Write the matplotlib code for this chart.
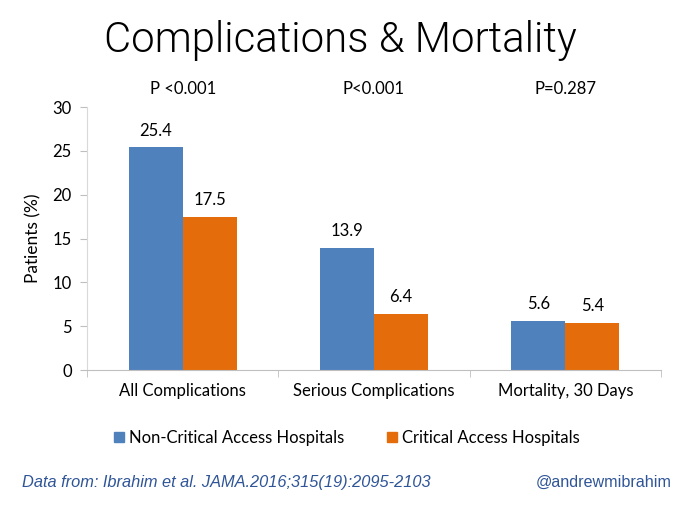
import matplotlib
matplotlib.use("Agg")
import matplotlib.pyplot as plt
import numpy as np
from matplotlib.patches import Patch

categories = ["All Complications", "Serious Complications", "Mortality, 30 Days"]
non_critical = [25.4, 13.9, 5.6]
critical = [17.5, 6.4, 5.4]
p_values = ["P <0.001", "P<0.001", "P=0.287"]
series_names = ["Non-Critical Access Hospitals", "Critical Access Hospitals"]
yticks = [0, 5, 10, 15, 20, 25, 30]

BLUE = "#4F81BD"
ORANGE = "#E46C0A"
FONT = "Lato"
FS = 12

fig = plt.figure(figsize=(6.8, 5.05), dpi=100)
ax = fig.add_axes([0.128, 0.267, 0.844, 0.521])

x = np.arange(len(categories))
w = 0.282
ax.bar(x - w / 2, non_critical, width=w, color=BLUE)
ax.bar(x + w / 2, critical, width=w, color=ORANGE)

for xi, v in zip(x - w / 2, non_critical):
    ax.text(xi, v + 1.0, f"{v}", ha="center", va="bottom", fontsize=FS, family=FONT)
for xi, v in zip(x + w / 2, critical):
    ax.text(xi, v + 1.0, f"{v}", ha="center", va="bottom", fontsize=FS, family=FONT)

for xi, p in zip(x, p_values):
    ax.text(xi, 31.2, p, ha="center", va="bottom", fontsize=FS, family=FONT)

ax.set_xlim(-0.5, 2.5)
ax.set_ylim(0, 30)
ax.set_yticks(yticks)
ax.set_yticklabels([str(t) for t in yticks], fontsize=FS, family=FONT)
ax.set_xticks(x)
ax.set_xticklabels(categories, fontsize=FS, family=FONT)
ax.set_xticks([-0.5, 0.5, 1.5, 2.5], minor=True)
ax.tick_params(axis="x", which="major", length=0, pad=9)
ax.tick_params(axis="x", which="minor", length=5, color="#BFBFBF")
ax.tick_params(axis="y", length=5, color="#BFBFBF", pad=6)
ax.set_ylabel("Patients (%)", fontsize=12.5, family=FONT, labelpad=8)

for s in ["top", "right"]:
    ax.spines[s].set_visible(False)
ax.spines["left"].set_color("#D9D9D9")
ax.spines["bottom"].set_color("#BFBFBF")

fig.text(0.5, 0.92, "Complications & Mortality", ha="center", va="center",
         fontsize=30.2, family="Roboto", fontweight=300)

handles = [Patch(color=BLUE), Patch(color=ORANGE)]
leg = fig.legend(handles, series_names, loc="center", bbox_to_anchor=(0.51, 0.133),
                 ncol=2, frameon=False, handlelength=0.6, handleheight=0.6,
                 handletextpad=0.3, columnspacing=2.6,
                 prop={"family": FONT, "size": FS})

fig.text(0.032, 0.044, "Data from: Ibrahim et al. JAMA.2016;315(19):2095-2103",
         ha="left", va="center", fontsize=11.8, style="italic",
         family="Liberation Sans", color="#2F5597")
fig.text(0.988, 0.044, "@andrewmibrahim", ha="right", va="center", fontsize=11.6,
         family="Liberation Sans", color="#2F5597")

fig.savefig("out.png", dpi=100)
